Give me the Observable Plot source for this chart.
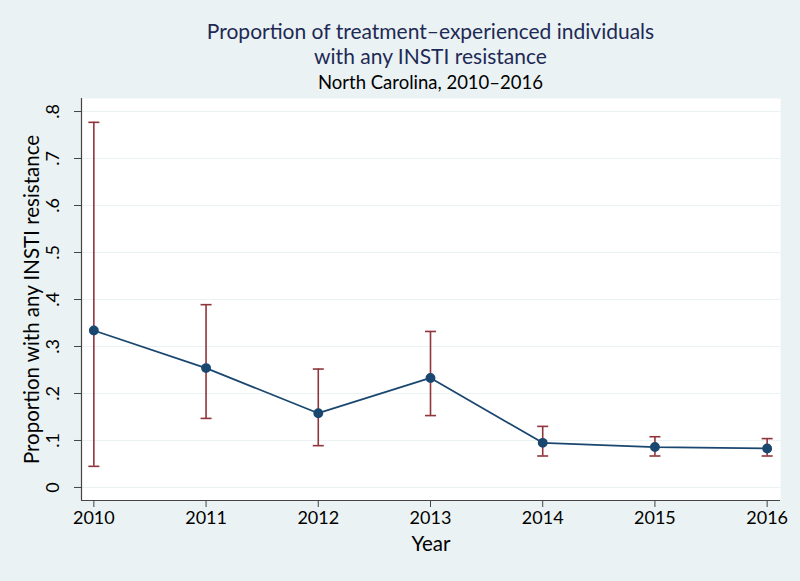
<!DOCTYPE html>
<html>
<head>
<meta charset="utf-8">
<script src="https://cdn.jsdelivr.net/npm/d3@7"></script>
<script src="https://cdn.jsdelivr.net/npm/@observablehq/plot@0.6"></script>
<style>
  html, body { margin: 0; padding: 0; background: #eaf2f3; }
  #wrap { position: relative; width: 800px; height: 581px; overflow: hidden; font-family: Lato, "Open Sans", sans-serif; }
  #head { position: absolute; left: 61px; top: 0; width: 739px; height: 90px; text-align: center; }
  #title { position: absolute; left: 0; right: 0; top: 19px; font-size: 21px; line-height: 24.5px; color: #1e2a55; }
  #subtitle { position: absolute; left: 0; right: 0; top: 71px; font-size: 18.5px; line-height: 22px; color: #000; }
  #chart { position: absolute; left: 0; top: 90px; }
  svg { background: transparent !important; }
  g[aria-label="y-axis label"] text, g[aria-label="x-axis label"] text { font-size: 20.5px; }
</style>
</head>
<body>
<div id="wrap">
  <div id="head">
    <div id="title">Proportion of treatment–experienced individuals<br>with any INSTI resistance</div>
    <div id="subtitle">North Carolina, 2010–2016</div>
  </div>
  <div id="chart"></div>
</div>
<script>
const years = [2010, 2011, 2012, 2013, 2014, 2015, 2016];
const proportion = [0.334, 0.254, 0.158, 0.233, 0.095, 0.086, 0.083];
const ciLow = [0.045, 0.147, 0.089, 0.153, 0.067, 0.067, 0.067];
const ciHigh = [0.777, 0.389, 0.252, 0.332, 0.130, 0.108, 0.104];
const yTicks = [0, 0.1, 0.2, 0.3, 0.4, 0.5, 0.6, 0.7, 0.8];
const yTickLabels = ["0", ".1", ".2", ".3", ".4", ".5", ".6", ".7", ".8"];
const xTickLabels = ["2010", "2011", "2012", "2013", "2014", "2015", "2016"];
const xDomain = [2009.89, 2016.119];
const yDomain = [-0.0277, 0.8277];

const data = years.map((year, i) => ({year, p: proportion[i], lo: ciLow[i], hi: ciHigh[i]}));

const navy = "#1a476f";
const maroon = "#90353b";

const capSymbol = {
  draw(context, size) {
    const r = Math.sqrt(size / Math.PI);
    context.moveTo(-r, 0);
    context.lineTo(r, 0);
  }
};

const chart = Plot.plot({
  width: 800,
  height: 491,
  marginTop: 8,
  marginBottom: 81,
  marginLeft: 81,
  marginRight: 20,
  style: {fontFamily: "Lato, 'Open Sans', sans-serif", fontSize: "18px", color: "#000", background: "transparent"},
  x: {domain: xDomain},
  y: {domain: yDomain},
  marks: [
    Plot.frame({fill: "white", stroke: null}),
    Plot.gridY(yTicks, {stroke: "#eaf2f3", strokeOpacity: 1, strokeWidth: 1.2}),
    Plot.ruleX([xDomain[0]], {stroke: "#444", strokeWidth: 1.2}),
    Plot.ruleY([yDomain[0]], {stroke: "#444", strokeWidth: 1.2}),
    Plot.axisY({
      ticks: yTicks,
      tickFormat: (d) => yTickLabels[yTicks.indexOf(d)],
      tickRotate: -90,
      tickSize: 7,
      tickPadding: 16,
      fontSize: 18,
      stroke: "#444",
      label: "Proportion with any INSTI resistance",
      labelAnchor: "center",
      labelArrow: "none",
      labelOffset: 57
    }),
    Plot.axisX({
      ticks: years,
      tickFormat: (d) => xTickLabels[years.indexOf(d)],
      tickSize: 7,
      tickPadding: 4,
      fontSize: 18,
      stroke: "#444",
      label: "Year",
      labelAnchor: "center",
      labelArrow: "none",
      labelOffset: 50
    }),
    Plot.ruleX(data, {x: "year", y1: "lo", y2: "hi", stroke: maroon, strokeWidth: 1.6}),
    Plot.dot(data, {x: "year", y: "lo", symbol: capSymbol, r: 5.5, stroke: maroon, strokeWidth: 1.6, fill: "none"}),
    Plot.dot(data, {x: "year", y: "hi", symbol: capSymbol, r: 5.5, stroke: maroon, strokeWidth: 1.6, fill: "none"}),
    Plot.line(data, {x: "year", y: "p", stroke: navy, strokeWidth: 1.8}),
    Plot.dot(data, {x: "year", y: "p", r: 4.2, fill: navy, stroke: navy})
  ]
});
document.getElementById("chart").appendChild(chart);
</script>
</body>
</html>
